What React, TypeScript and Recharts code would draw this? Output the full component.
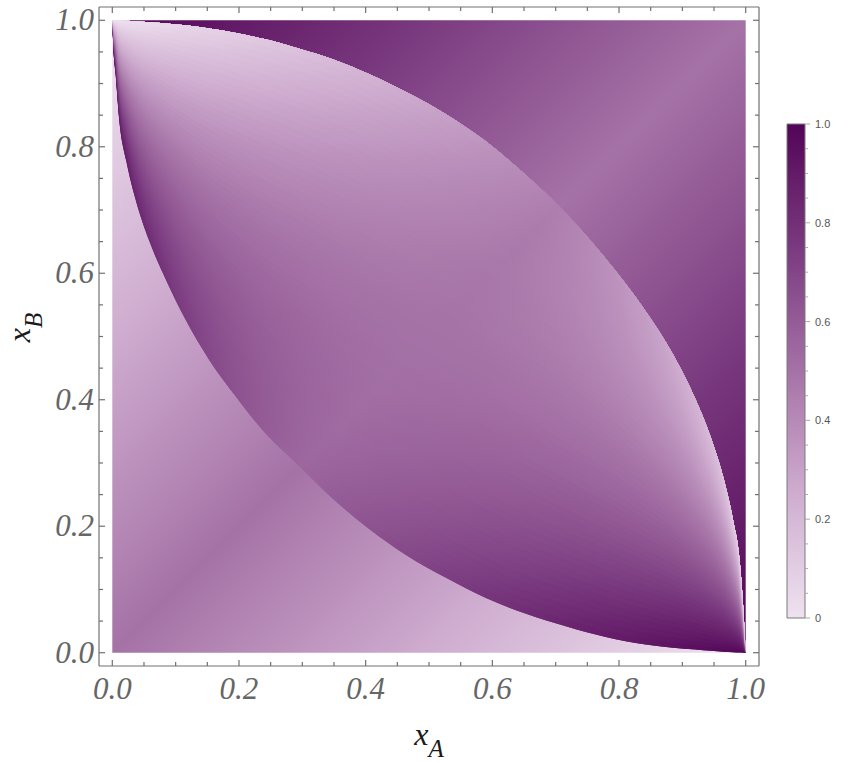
import React from 'react';
import { ComposedChart, Area, XAxis, YAxis, BarChart, Bar } from 'recharts';

const xA = [0, 0.0015, 0.005, 0.011, 0.022, 0.037, 0.058, 0.085, 0.116, 0.153, 0.195, 0.237, 0.295, 0.352, 0.405, 0.463, 0.526, 0.589, 0.652, 0.716, 0.779, 0.842, 0.885, 0.921, 0.945, 0.965, 0.98, 0.99, 0.996, 1];
// lower (bottom-left) boundary of the lens, x_B
const lowerXB = [1, 0.96, 0.918, 0.842, 0.778, 0.716, 0.652, 0.589, 0.526, 0.463, 0.405, 0.352, 0.295, 0.24, 0.196, 0.155, 0.119, 0.087, 0.062, 0.042, 0.025, 0.013, 0.008, 0.005, 0.003, 0.0015, 0.0007, 0.0003, 0.0001, 0];
// upper (top-right) boundary of the lens, x_B
const upperXB = [1, 1, 0.9999, 0.9997, 0.9993, 0.9985, 0.997, 0.995, 0.992, 0.987, 0.98, 0.971, 0.955, 0.937, 0.915, 0.887, 0.852, 0.809, 0.756, 0.695, 0.623, 0.54, 0.472, 0.4, 0.34, 0.276, 0.21, 0.15, 0.073, 0];

// density values: [at the corners |x_A - x_B| = 1, on the diagonal]
const belowLensValues = [0, 0.5];
const aboveLensValues = [1, 0.5];
// inside the lens: value on lower boundary at corner, on upper boundary at corner, on the diagonal
const lensValues = [1, 0, 0.5];

const axisTicks = [0, 0.05, 0.1, 0.15, 0.2, 0.25, 0.3, 0.35, 0.4, 0.45, 0.5, 0.55, 0.6, 0.65, 0.7, 0.75, 0.8, 0.85, 0.9, 0.95, 1];
const axisLabels = ['0.0', '0.2', '0.4', '0.6', '0.8', '1.0'];
const cbTicks = [0, 0.05, 0.1, 0.15, 0.2, 0.25, 0.3, 0.35, 0.4, 0.45, 0.5, 0.55, 0.6, 0.65, 0.7, 0.75, 0.8, 0.85, 0.9, 0.95, 1];
const cbLabels = ['0', '0.2', '0.4', '0.6', '0.8', '1.0'];
const colorbarRange = [0, 1];

// style
const COLORMAP: [number, string][] = [
  [0, '#efe2f0'],
  [0.25, '#cfadd0'],
  [0.5, '#a572a6'],
  [0.75, '#7a3a7f'],
  [1, '#530557'],
];
const LENS_BANDS = 56;
const LENS_DIAG_SPREAD = 0.1;
const FRAME = '#707070';
const DOMAIN: [number, number] = [-0.021, 1.021];
const OFFSETS = [0, 0.0625, 0.125, 0.1875, 0.25, 0.3125, 0.375, 0.4375, 0.5, 0.5625, 0.625, 0.6875, 0.75, 0.8125, 0.875, 0.9375, 1];

const hex = (h: string) => [parseInt(h.slice(1, 3), 16), parseInt(h.slice(3, 5), 16), parseInt(h.slice(5, 7), 16)];
function cmap(v: number): string {
  const c = Math.max(0, Math.min(1, v));
  for (let i = 0; i < COLORMAP.length - 1; i++) {
    const [a, ca] = COLORMAP[i];
    const [b, cb] = COLORMAP[i + 1];
    if (c <= b) {
      const f = (c - a) / (b - a);
      const A = hex(ca), B = hex(cb);
      const r = A.map((x, j) => Math.round(x + (B[j] - x) * f));
      return `rgb(${r[0]},${r[1]},${r[2]})`;
    }
  }
  return COLORMAP[COLORMAP.length - 1][1];
}

// gradient across the anti-diagonal direction: offset 0 = corner (0,1), 0.5 = diagonal, 1 = corner (1,0)
function vGradient(id: string, edge: number, diag: number) {
  return (
    <linearGradient id={id} key={id} x1="0" y1="0" x2="1" y2="1">
      {OFFSETS.map((o) => {
        const d = Math.abs(1 - 2 * o);
        return <stop key={o} offset={o} stopColor={cmap(diag + (edge - diag) * d)} />;
      })}
    </linearGradient>
  );
}

const isMajor = (v: number) => Math.abs(v * 5 - Math.round(v * 5)) < 1e-6;
const tickFont: React.CSSProperties = { fontFamily: '"Liberation Serif", serif', fontStyle: 'italic', fontSize: 31, fill: '#666' };
const titleFont: React.CSSProperties = { fontFamily: '"Liberation Serif", serif', fontStyle: 'italic', fontSize: 32, fill: '#1a1a1a' };

const BottomTick = (p: any) => {
  const v = p.payload.value;
  const m = isMajor(v);
  return (
    <g>
      <line x1={p.x} y1={p.y} x2={p.x} y2={p.y - (m ? 6 : 4)} stroke={FRAME} strokeWidth={1.2} />
      {m && <text x={p.x} y={p.y + 33} textAnchor="middle" style={tickFont}>{axisLabels[Math.round(v * 5)]}</text>}
    </g>
  );
};
const TopTick = (p: any) => {
  const m = isMajor(p.payload.value);
  return <line x1={p.x} y1={p.y} x2={p.x} y2={p.y + (m ? 6 : 4)} stroke={FRAME} strokeWidth={1.2} />;
};
const LeftTick = (p: any) => {
  const v = p.payload.value;
  const m = isMajor(v);
  return (
    <g>
      <line x1={p.x} y1={p.y} x2={p.x + (m ? 6 : 4)} y2={p.y} stroke={FRAME} strokeWidth={1.2} />
      {m && <text x={p.x - 5} y={p.y + 10} textAnchor="end" style={tickFont}>{axisLabels[Math.round(v * 5)]}</text>}
    </g>
  );
};
const RightTick = (p: any) => {
  const m = isMajor(p.payload.value);
  return <line x1={p.x} y1={p.y} x2={p.x - (m ? 6 : 4)} y2={p.y} stroke={FRAME} strokeWidth={1.2} />;
};
const CbTick = (p: any) => {
  const v = p.payload.value;
  const m = isMajor(v);
  return (
    <g>
      <line x1={p.x} y1={p.y} x2={p.x + (m ? 5 : 3)} y2={p.y} stroke="#aaa" strokeWidth={1} />
      {m && (
        <text x={p.x + 10} y={p.y + 4} textAnchor="start" style={{ fontFamily: '"Liberation Sans", Arial, sans-serif', fontSize: 11, fill: '#555' }}>
          {cbLabels[Math.round(v * 5)]}
        </text>
      )}
    </g>
  );
};

const renderXTitle = (p: any) => {
  const vb = p.viewBox;
  return (
    <text x={vb.x + vb.width / 2} y={vb.y + 79} textAnchor="middle" style={titleFont}>
      <tspan>x</tspan>
      <tspan fontSize={25} dy={12}>A</tspan>
    </text>
  );
};
const renderYTitle = (p: any) => {
  const vb = p.viewBox;
  const cx = vb.x + 30;
  const cy = vb.y + vb.height / 2 - 9;
  return (
    <text x={cx} y={cy} transform={`rotate(-90 ${cx} ${cy})`} textAnchor="middle" style={titleFont}>
      <tspan>x</tspan>
      <tspan fontSize={25} dy={12}>B</tspan>
    </text>
  );
};

export default function App() {
  const rows = xA.map((x, i) => ({ x, lo: lowerXB[i], up: upperXB[i] }));
  const bandTs = Array.from({ length: LENS_BANDS }, (_, k) => k / LENS_BANDS);
  const frameLine = { stroke: FRAME, strokeWidth: 1.2 };
  const cbData = [{ name: 'scale', span: colorbarRange }];

  return (
    <div style={{ position: 'absolute', left: 0, top: 0, width: 842, height: 762, background: '#fff' }}>
      <div style={{ position: 'absolute', left: 0, top: 0 }}>
        <ComposedChart width={842} height={762} data={rows} margin={{ top: 6, right: 82, bottom: 0, left: 0 }}>
          <defs>
            {vGradient('g-below', belowLensValues[0], belowLensValues[1])}
            {vGradient('g-above', aboveLensValues[0], aboveLensValues[1])}
            {bandTs.map((t, k) => {
              const tc = t + 0.5 / LENS_BANDS;
              const edge = lensValues[0] + (lensValues[1] - lensValues[0]) * tc;
              const diag = lensValues[2] + (edge - lensValues[2]) * LENS_DIAG_SPREAD;
              return vGradient(`g-lens-${k}`, edge, diag);
            })}
          </defs>
          <XAxis dataKey="x" type="number" domain={DOMAIN} allowDataOverflow ticks={axisTicks} interval={0}
            height={96} tickSize={0} tickMargin={0} tickLine={false} axisLine={frameLine} tick={BottomTick} label={renderXTitle} />
          <XAxis xAxisId="top" dataKey="x" orientation="top" type="number" domain={DOMAIN} allowDataOverflow ticks={axisTicks} interval={0}
            height={1} tickSize={0} tickMargin={0} tickLine={false} axisLine={frameLine} tick={TopTick} />
          <YAxis type="number" domain={DOMAIN} allowDataOverflow ticks={axisTicks} interval={0}
            width={99} tickSize={0} tickMargin={0} tickLine={false} axisLine={frameLine} tick={LeftTick} label={renderYTitle} />
          <YAxis yAxisId="right" orientation="right" type="number" domain={DOMAIN} allowDataOverflow ticks={axisTicks} interval={0}
            width={1} tickSize={0} tickMargin={0} tickLine={false} axisLine={frameLine} tick={RightTick} />

          <Area type="monotone" dataKey={(r: any) => [0, r.up]} stroke="none" fill="url(#g-below)" fillOpacity={1}
            isAnimationActive={false} dot={false} activeDot={false} />
          <Area type="monotone" dataKey={(r: any) => [r.lo, 1]} stroke="none" fill="url(#g-above)" fillOpacity={1}
            isAnimationActive={false} dot={false} activeDot={false} />
          {bandTs.map((t, k) => (
            <Area key={k} type="monotone" dataKey={(r: any) => [r.lo + t * (r.up - r.lo), r.up]} stroke="none"
              fill={`url(#g-lens-${k})`} fillOpacity={1} isAnimationActive={false} dot={false} activeDot={false} />
          ))}
          {/* invisible series tying the mirrored frame axes to the data */}
          <Area xAxisId="top" yAxisId="right" type="linear" dataKey="lo" stroke="none" fill="none"
            isAnimationActive={false} dot={false} activeDot={false} />
        </ComposedChart>
      </div>
      <div style={{ position: 'absolute', left: 777, top: 114 }}>
        <BarChart width={68} height={510} data={cbData} margin={{ top: 10, right: 0, bottom: 6, left: 10 }} barCategoryGap={0} barGap={0}>
          <defs>
            <linearGradient id="cbar" x1="0" y1="1" x2="0" y2="0">
              {OFFSETS.map((o) => <stop key={o} offset={o} stopColor={cmap(o)} />)}
            </linearGradient>
          </defs>
          <XAxis dataKey="name" hide />
          <YAxis orientation="right" type="number" domain={[0, 1]} ticks={cbTicks} interval={0} width={40}
            tickSize={0} tickMargin={0} tickLine={false} axisLine={false} tick={CbTick} />
          <Bar dataKey="span" fill="url(#cbar)" stroke="#7a7a7a" strokeWidth={1} isAnimationActive={false} />
        </BarChart>
      </div>
    </div>
  );
}
